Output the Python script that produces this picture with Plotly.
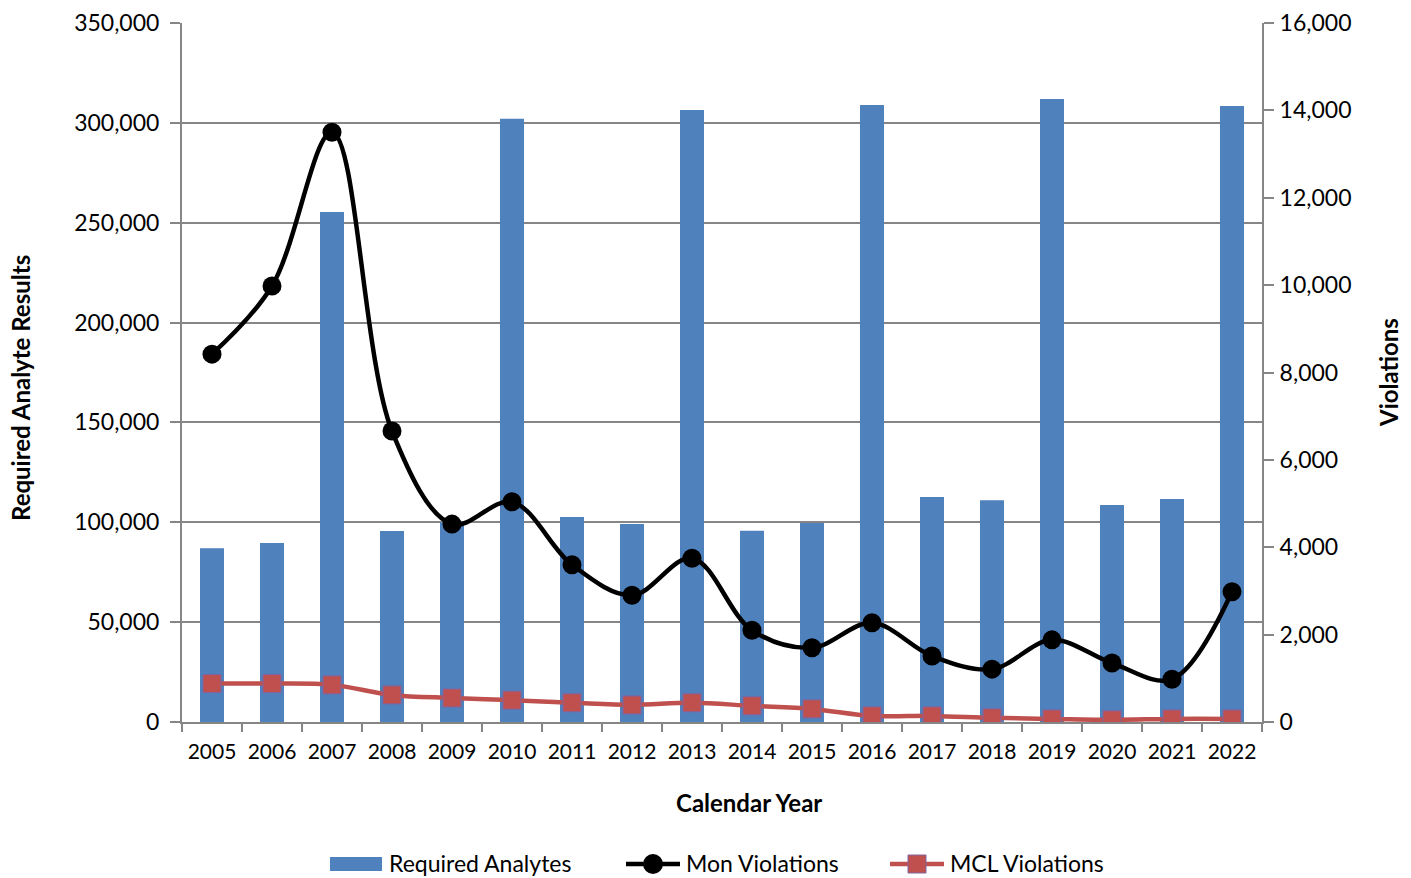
import plotly.graph_objects as go

years = [str(y) for y in range(2005, 2023)]
required_analytes = [87000, 89600, 255400, 95600, 100000, 302000, 102600, 99200, 306400,
                     95800, 99600, 309000, 112600, 111000, 312000, 108700, 111600, 308400]
mon_violations = [8420, 9980, 13500, 6660, 4530, 5040, 3600, 2900, 3750,
                  2100, 1700, 2270, 1510, 1210, 1880, 1350, 980, 2980]
mcl_violations = [880, 880, 850, 620, 550, 500, 440, 390, 440,
                  370, 300, 140, 140, 95, 70, 50, 70, 70]

FONT = "Lato"
AXIS_GREY = "#868686"
BLUE = "#4F81BD"
RED = "#C0504D"
PURPLE = "#8064A2"

W, H = 1411, 878
ML, MR, MT, MB = 182, 149, 23, 156
PW, PH = W - ML - MR, H - MT - MB


def px(x):
    return (x - ML) / PW


def py(y):
    return (H - MB - y) / PH


fig = go.Figure()
fig.add_trace(go.Bar(
    x=years, y=required_analytes, name="Required Analytes",
    marker=dict(color=BLUE, line=dict(width=0)), width=0.4,
))
fig.add_trace(go.Scatter(
    x=years, y=mon_violations, name="Mon Violations", yaxis="y2",
    mode="lines+markers", line=dict(color="black", width=4.5, shape="spline", smoothing=1),
    marker=dict(symbol="circle", size=19, color="black"),
))
fig.add_trace(go.Scatter(
    x=years, y=mcl_violations, name="MCL Violations", yaxis="y2",
    mode="lines+markers", line=dict(color=RED, width=4.5, shape="spline", smoothing=1),
    marker=dict(symbol="square", size=18, color=RED, line=dict(color=PURPLE, width=1)),
))

# Legend drawn underneath the x-axis title
LY = 864
shapes = [
    dict(type="rect", xref="paper", yref="paper", x0=px(330), x1=px(382), y0=py(871), y1=py(857),
         fillcolor=BLUE, line=dict(width=0)),
    dict(type="line", xref="paper", yref="paper", x0=px(626), x1=px(680), y0=py(LY), y1=py(LY),
         line=dict(color="black", width=4.5)),
    dict(type="circle", xref="paper", yref="paper", x0=px(643), x1=px(663), y0=py(LY + 10), y1=py(LY - 10),
         fillcolor="black", line=dict(width=0)),
    dict(type="line", xref="paper", yref="paper", x0=px(890), x1=px(944), y0=py(LY), y1=py(LY),
         line=dict(color=RED, width=4.5)),
    dict(type="rect", xref="paper", yref="paper", x0=px(908), x1=px(926), y0=py(LY + 9), y1=py(LY - 9),
         fillcolor=RED, line=dict(color=PURPLE, width=1)),
]

legend_font = dict(family=FONT, size=23, color="black")
title_font = dict(family=FONT, size=24, color="black")
annotations = [
    dict(text="Required Analytes", x=px(387), y=py(LY - 1), xref="paper", yref="paper",
         xanchor="left", yanchor="middle", showarrow=False, font=legend_font),
    dict(text="Mon Violations", x=px(684), y=py(LY - 1), xref="paper", yref="paper",
         xanchor="left", yanchor="middle", showarrow=False, font=legend_font),
    dict(text="MCL Violations", x=px(948), y=py(LY - 1), xref="paper", yref="paper",
         xanchor="left", yanchor="middle", showarrow=False, font=legend_font),
    dict(text="<b>Calendar Year</b>", x=px(749), y=py(802), xref="paper", yref="paper",
         xanchor="center", yanchor="middle", showarrow=False, font=title_font),
    dict(text="<b>Required Analyte Results</b>", x=px(20), y=py(388), xref="paper", yref="paper",
         xanchor="center", yanchor="middle", textangle=-90, showarrow=False, font=title_font),
    dict(text="<b>Violations</b>", x=px(1388), y=py(373), xref="paper", yref="paper",
         xanchor="center", yanchor="middle", textangle=-90, showarrow=False, font=title_font),
]

fig.update_layout(
    width=W, height=H,
    margin=dict(l=ML, r=MR, t=MT, b=MB),
    paper_bgcolor="white", plot_bgcolor="white",
    font=dict(family=FONT, size=21, color="black"),
    showlegend=False,
    shapes=shapes,
    annotations=annotations,
    xaxis=dict(
        type="category", range=[-0.5, 17.5], automargin=False,
        showline=True, linecolor=AXIS_GREY, linewidth=2,
        ticks="outside", tickson="boundaries", ticklen=8, tickcolor=AXIS_GREY, tickwidth=2,
        tickfont=dict(size=21), tickangle=0, ticklabelstandoff=10,
        showgrid=False,
    ),
    yaxis=dict(
        range=[0, 350000], dtick=50000, tickformat=",d", automargin=False,
        showline=True, linecolor=AXIS_GREY, linewidth=2,
        ticks="outside", ticklen=10, tickcolor=AXIS_GREY, tickwidth=2,
        showgrid=True, gridcolor=AXIS_GREY, gridwidth=1.5,
        zeroline=False, tickfont=dict(size=23), ticklabelstandoff=6,
    ),
    yaxis2=dict(
        range=[0, 16000], dtick=2000, tickformat=",d", automargin=False,
        overlaying="y", side="right",
        showline=True, linecolor=AXIS_GREY, linewidth=2,
        ticks="outside", ticklen=10, tickcolor=AXIS_GREY, tickwidth=2,
        showgrid=False, zeroline=False, tickfont=dict(size=23), ticklabelstandoff=1,
    ),
)

fig.write_html("out.html")
